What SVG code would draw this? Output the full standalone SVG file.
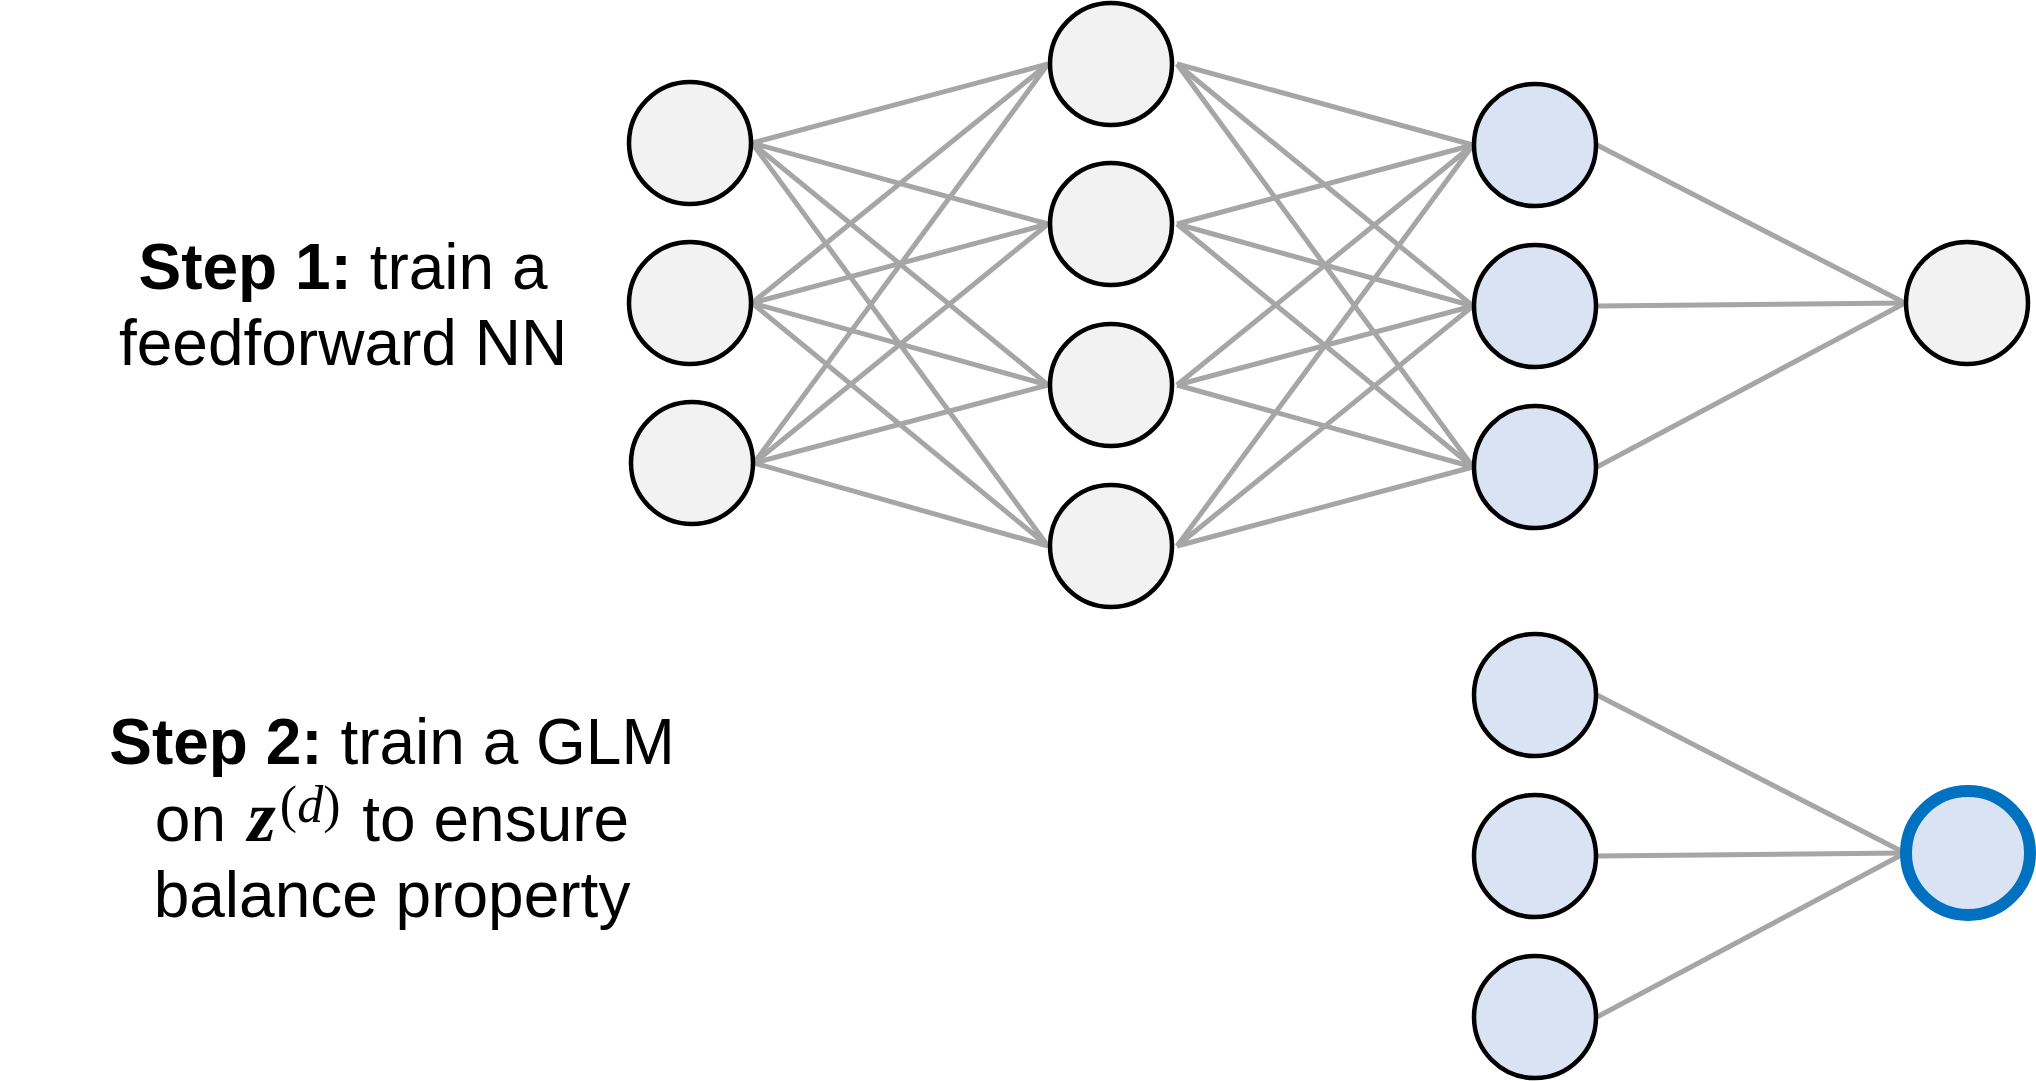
<svg xmlns="http://www.w3.org/2000/svg" width="2036" height="1081" viewBox="0 0 2036 1081">
<style>
.n{stroke:#000;stroke-width:4.5}
.g{fill:#F2F2F2}
.b{fill:#DAE3F3}
.hl{fill:#DAE3F3;stroke:#0070C0;stroke-width:12}
#connectors line{stroke:#A6A6A6;stroke-width:5;stroke-linecap:butt}
.t{font-family:"Liberation Sans",Arial,sans-serif;font-size:64px;fill:#000;text-anchor:middle}
.bd{font-weight:bold}
.m{font-family:"Liberation Serif","Times New Roman",serif}
</style>
<rect width="2036" height="1081" fill="#fff"/>
<g id="connectors">
<line x1="752" y1="143" x2="1048" y2="64"/>
<line x1="752" y1="143" x2="1048" y2="224"/>
<line x1="752" y1="143" x2="1048" y2="385"/>
<line x1="752" y1="143" x2="1048" y2="546"/>
<line x1="752" y1="303" x2="1048" y2="64"/>
<line x1="752" y1="303" x2="1048" y2="224"/>
<line x1="752" y1="303" x2="1048" y2="385"/>
<line x1="752" y1="303" x2="1048" y2="546"/>
<line x1="754" y1="463" x2="1048" y2="64"/>
<line x1="754" y1="463" x2="1048" y2="224"/>
<line x1="754" y1="463" x2="1048" y2="385"/>
<line x1="754" y1="463" x2="1048" y2="546"/>
<line x1="1177" y1="64" x2="1473" y2="145"/>
<line x1="1177" y1="64" x2="1473" y2="306"/>
<line x1="1177" y1="64" x2="1473" y2="467"/>
<line x1="1177" y1="224" x2="1473" y2="145"/>
<line x1="1177" y1="224" x2="1473" y2="306"/>
<line x1="1177" y1="224" x2="1473" y2="467"/>
<line x1="1177" y1="385" x2="1473" y2="145"/>
<line x1="1177" y1="385" x2="1473" y2="306"/>
<line x1="1177" y1="385" x2="1473" y2="467"/>
<line x1="1177" y1="546" x2="1473" y2="145"/>
<line x1="1177" y1="546" x2="1473" y2="306"/>
<line x1="1177" y1="546" x2="1473" y2="467"/>
<line x1="1597" y1="145" x2="1905" y2="303"/>
<line x1="1597" y1="306" x2="1905" y2="303"/>
<line x1="1597" y1="467" x2="1905" y2="303"/>
<line x1="1597" y1="695" x2="1905" y2="853"/>
<line x1="1597" y1="856" x2="1905" y2="853"/>
<line x1="1597" y1="1017" x2="1905" y2="853"/>
</g>
<g id="in1"><circle class="n g" cx="690" cy="143" r="61"/></g>
<g id="in2"><circle class="n g" cx="690" cy="303" r="61"/></g>
<g id="in3"><circle class="n g" cx="692" cy="463" r="61"/></g>
<g id="h1"><circle class="n g" cx="1111" cy="64" r="61"/></g>
<g id="h2"><circle class="n g" cx="1111" cy="224" r="61"/></g>
<g id="h3"><circle class="n g" cx="1111" cy="385" r="61"/></g>
<g id="h4"><circle class="n g" cx="1111" cy="546" r="61"/></g>
<g id="z1"><circle class="n b" cx="1535" cy="145" r="61"/></g>
<g id="z2"><circle class="n b" cx="1535" cy="306" r="61"/></g>
<g id="z3"><circle class="n b" cx="1535" cy="467" r="61"/></g>
<g id="out"><circle class="n g" cx="1967" cy="303" r="61"/></g>
<g id="gz1"><circle class="n b" cx="1535" cy="695" r="61"/></g>
<g id="gz2"><circle class="n b" cx="1535" cy="856" r="61"/></g>
<g id="gz3"><circle class="n b" cx="1535" cy="1017" r="61"/></g>
<g id="glm-out"><circle class="hl" cx="1968" cy="853" r="62"/></g>
<g id="step1">
<text class="t" x="343" y="289"><tspan class="bd">Step 1:</tspan> train a</text>
<text class="t" x="343" y="365">feedforward NN</text>
</g>
<g id="step2">
<text class="t" x="392" y="764"><tspan class="bd">Step 2:</tspan> train a GLM</text>
<text class="t" x="392" y="841">on <tspan class="m" font-weight="bold" font-style="italic" font-size="72" dx="4">z</tspan><tspan class="m" font-size="52" dy="-19" dx="4">(<tspan font-style="italic">d</tspan>)</tspan><tspan dy="19" dx="4"> to ensure</tspan></text>
<text class="t" x="392" y="917">balance property</text>
</g>
</svg>
